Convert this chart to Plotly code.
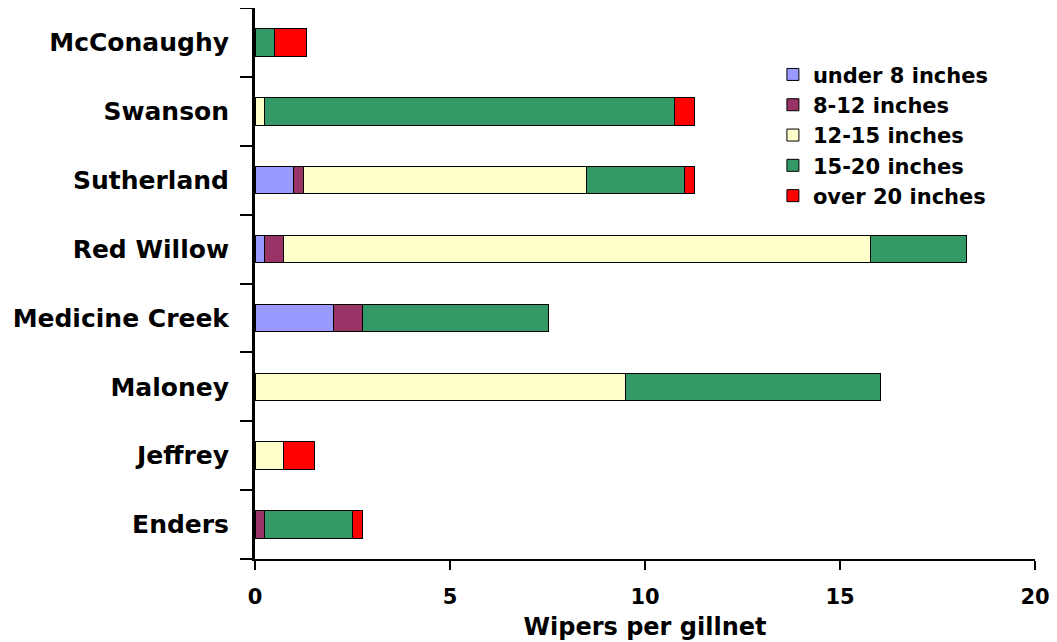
import plotly.graph_objects as go

# reservoirs, bottom to top as drawn
lakes = ['Enders', 'Jeffrey', 'Maloney', 'Medicine Creek', 'Red Willow',
         'Sutherland', 'Swanson', 'McConaughy']

# wipers per gillnet by length group
under_8 = [0, 0, 0, 2.0, 0.24, 0.98, 0, 0]
in_8_12 = [0.24, 0, 0, 0.75, 0.5, 0.26, 0, 0]
in_12_15 = [0, 0.74, 9.49, 0, 15.03, 7.26, 0.24, 0]
in_15_20 = [2.26, 0, 6.54, 4.77, 2.48, 2.51, 10.51, 0.5]
over_20 = [0.25, 0.78, 0, 0, 0, 0.26, 0.52, 0.83]

series = [
    ('under 8 inches', under_8, '#9999FF'),
    ('8-12 inches', in_8_12, '#993366'),
    ('12-15 inches', in_12_15, '#FFFFCC'),
    ('15-20 inches', in_15_20, '#339966'),
    ('over 20 inches', over_20, '#FF0000'),
]

font = 'DejaVu Sans'

fig = go.Figure()
for name, vals, col in series:
    fig.add_trace(go.Bar(
        x=vals, y=lakes, orientation='h', name=name, legendgroup=name,
        marker=dict(color=col, line=dict(color='black', width=1)),
    ))

# page has an 8px body margin, so margins are shifted to compensate
fig.update_layout(
    width=1057, height=642,
    barmode='stack', bargap=0.6,
    plot_bgcolor='white', paper_bgcolor='white',
    margin=dict(l=247, r=30, t=0, b=91),
    font=dict(family=font, color='black'),
    showlegend=True,
    legend=dict(
        x=0.664, y=0.916, xanchor='left', yanchor='top',
        traceorder='grouped', tracegroupgap=0,
        font=dict(family=font, size=21, color='black', weight='bold'),
        bgcolor='rgba(0,0,0,0)',
    ),
    xaxis=dict(
        range=[0, 20], dtick=5, showgrid=False, zeroline=False,
        showline=True, linecolor='black', linewidth=2,
        ticks='outside', ticklen=9, tickwidth=2, tickcolor='black',
        ticklabelstandoff=9,
        tickfont=dict(family=font, size=21, color='black', weight='bold'),
        title=dict(text='Wipers per gillnet', standoff=10,
                   font=dict(family=font, size=24, color='black', weight='bold')),
    ),
    yaxis=dict(
        categoryorder='array', categoryarray=lakes,
        showgrid=False, zeroline=False,
        showline=True, linecolor='black', linewidth=3,
        ticks='outside', tickson='boundaries', ticklen=12, tickwidth=2,
        tickcolor='black', ticklabelstandoff=18,
        tickfont=dict(family=font, size=25, color='black', weight='bold'),
    ),
)

fig.write_html('out.html')
